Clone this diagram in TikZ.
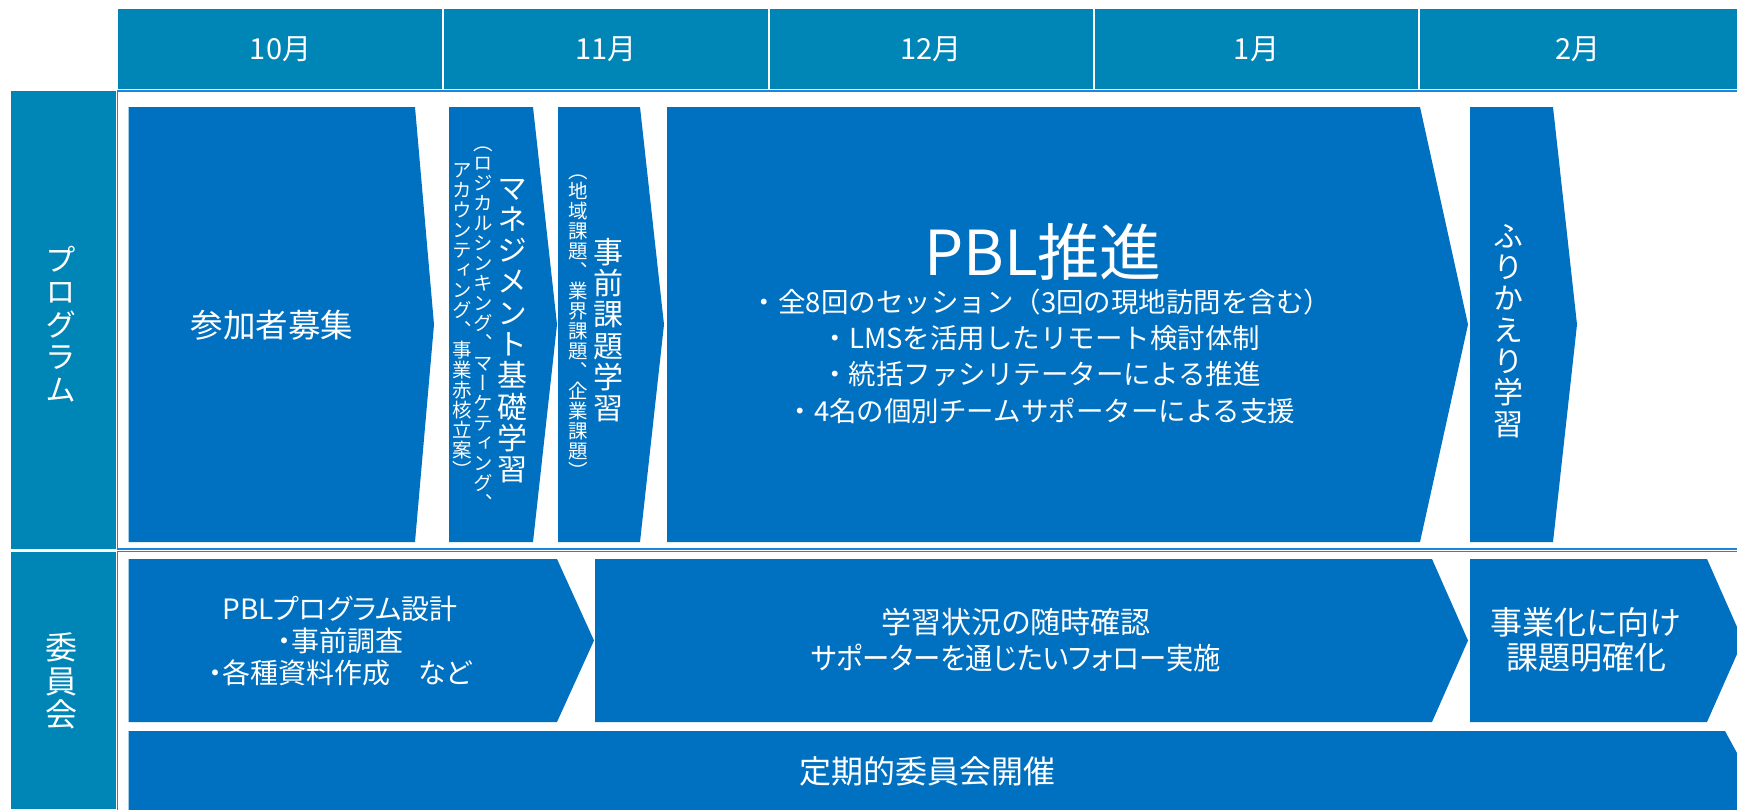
\documentclass[tikz,border=0pt]{standalone}
\usepackage{fontspec}
\usepackage{graphicx}
\setmainfont{Noto Sans CJK JP}[RawFeature=+palt]
\newfontfamily\jpm{Noto Sans CJK JP}
\newfontfamily\jpv{Noto Sans CJK JP}[RawFeature=+vert]
\definecolor{hdr}{HTML}{0085B7}
\definecolor{boxb}{HTML}{0070C0}
\definecolor{edgeb}{HTML}{1E84DC}
\newcommand\fs[1]{\fontsize{#1}{#1}\selectfont}
\newcommand\fsl[2]{\fontsize{#1}{#2}\selectfont}
\makeatletter
\def\vt@end{\vt@end}
\newcommand\vtext[1]{\vbox{\vt@a#1\vt@end}}
\def\vt@a#1#2{\hbox to 1em{\hss#1\hss}\ifx#2\vt@end\expandafter\@gobble\else\expandafter\vt@a\fi #2}
\makeatother
\newcommand\chevbox[5]{\fill[boxb] (#1,#2) -- (#3,#2) -- (#5,{(#2+#4)/2}) -- (#3,#4) -- (#1,#4) -- cycle;}
\tikzset{
  lbl/.style={text=white, inner sep=0pt, align=center},
  vlbl/.style={text=white, inner sep=0pt},
  sepline/.style={white, line width=2pt},
  areabox/.style={draw=edgeb, line width=1.5pt},
}
\begin{document}
\begin{tikzpicture}[x=1pt,y=-1pt]
\useasboundingbox (0,0) rectangle (1737,809);
\begin{scope}
\clip (0,0) rectangle (1737,809);
% header
\fill[hdr] (118,9) rectangle (1737,89);
\foreach \sx in {443,768.5,1094,1419} \draw[sepline] (\sx,9) -- (\sx,89);
\node[lbl, font=\fs{29}] (m10) at (280.5,49) {10月};
\node[lbl, font=\fs{29}] (m11) at (606,49) {11月};
\node[lbl, font=\fs{29}] (m12) at (931,49) {12月};
\node[lbl, font=\fs{29}] (m01) at (1256.5,49) {1月};
\node[lbl, font=\fs{29}] (m02) at (1578,49) {2月};
% left column
\fill[hdr] (11,91) rectangle (116,548.5);
\fill[hdr] (11,551.5) rectangle (116,809);
\node[vlbl, font=\jpv\fsl{31}{32.5}] (prog) at (61,324) {\vtext{プログラム}};
\node[vlbl, font=\jpv\fsl{32}{33.5}] (comm) at (61,681) {\vtext{委員会}};
% area borders
\draw[areabox] (117.5,91) rectangle (1760,549);
\draw[areabox] (117.5,551.5) rectangle (1760,840);
% program row
\chevbox{128.5}{107}{415}{542}{434}
\chevbox{449}{107}{533}{542}{557}
\chevbox{558}{107}{640}{542}{664}
\chevbox{667}{107}{1420}{542}{1468}
\chevbox{1470}{107}{1553}{542}{1577}
\node[lbl, font=\fs{32.5}] (recruit) at (272,325) {参加者募集};
\node[vlbl, font=\jpv\fsl{30}{31.3}] (mgmt) at (512,331) {\vtext{マネジメント基礎学習}};
\node[vlbl, font=\jpv\fsl{19.5}{20}] (mgmtA) at (483,329) {\vtext{（ロジカルシンキング、マーケティング、}};
\node[vlbl, font=\jpv\fsl{19.5}{20}] (mgmtB) at (462,321) {\vtext{アカウンティング、事業赤核立案）}};
\node[vlbl, font=\jpv\fsl{30}{31.3}] (pre) at (608,330) {\vtext{事前課題学習}};
\node[vlbl, font=\jpv\fsl{19.5}{20}] (preA) at (578,327) {\vtext{（地域課題、業界課題、企業課題）}};
\node[lbl, font=\fs{62}] (pbl) at (1043,252) {PBL推進};
\node[lbl, font=\jpm\fsl{27.5}{36.3}] (pblB) at (1041,356)
  {・全8回のセッション（3回の現地訪問を含む）\\
   ・LMSを活用したリモート検討体制\\
   ・統括ファシリテーターによる推進\\
   ・4名の個別チームサポーターによる支援};
\node[vlbl, font=\jpv\fsl{30}{31.3}] (refl) at (1508,331) {\vtext{ふりかえり学習}};
% committee row
\chevbox{128.5}{559}{557}{722}{594}
\chevbox{595}{559}{1432}{722}{1468}
\chevbox{1470}{559}{1707}{722}{1743}
\chevbox{128.5}{731}{1725}{863}{1761}
\node[lbl, font=\fsl{28}{31.8}] (design) at (340,641)
  {PBLプログラム設計\\ ・事前調査\\ ・各種資料作成　など};
\node[lbl, font=\fsl{30}{35.4}] (follow) at (1016,640)
  {学習状況の随時確認\\ \scalebox{0.91}[1]{サポーターを通じたいフォロー実施}};
\node[lbl, font=\fsl{32}{35.4}] (biz) at (1586,640)
  {事業化に向け\\ 課題明確化};
\node[lbl, font=\fs{32}] (meet) at (927,771) {定期的委員会開催};
\end{scope}
\end{tikzpicture}
\end{document}
